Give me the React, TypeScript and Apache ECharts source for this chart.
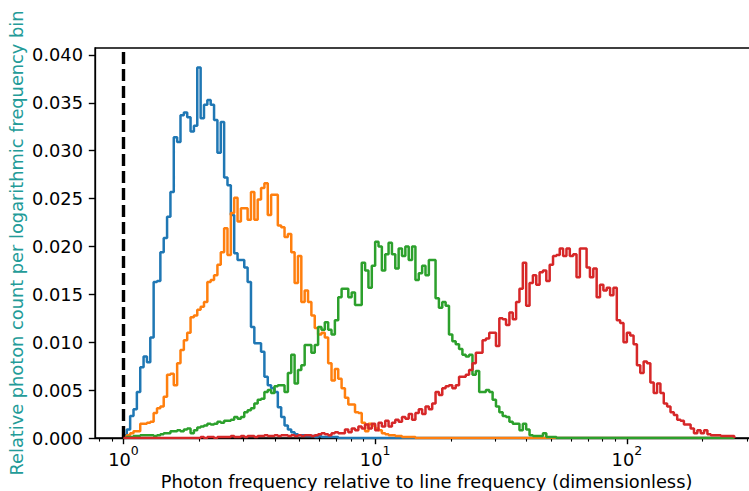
import React, { useEffect, useRef } from "react";
import * as echarts from "echarts";

// Histogram bins: logarithmic, edges at 10^(i / BINS_PER_DECADE), starting at 1
const BINS_PER_DECADE = 75;
const N_BINS = 182;

const blue = [
  0.0003, 0.0009, 0.0023, 0.003, 0.0048, 0.0074, 0.0085, 0.0079, 0.0105, 0.0163,
  0.0164, 0.0194, 0.0209, 0.0231, 0.0257, 0.0314, 0.0309, 0.0337, 0.034, 0.0335,
  0.032, 0.0326, 0.0387, 0.0334, 0.0348, 0.0353, 0.0348, 0.0332, 0.0298, 0.033,
  0.0272, 0.0264, 0.0233, 0.0193, 0.0186, 0.0186, 0.0178, 0.0163, 0.0116, 0.0099,
  0.0099, 0.009, 0.0064, 0.0055, 0.0052, 0.0048, 0.0032, 0.0022, 0.0013, 0.0009,
  0.0006, 0.0004, 0.0003, 0.0003, 0.0002, 0.0002, 0.0002, 0.0001, 0.0002, 0.0001,
  0.0001, 0.0001, 0.0001, 0.0001,
];

const orange = [
  0.0001, 0.0003, 0.0005, 0.0007, 0.0007, 0.0015, 0.0015, 0.0016, 0.0017, 0.0026,
  0.0031, 0.0033, 0.0043, 0.0066, 0.0067, 0.0055, 0.0078, 0.0092, 0.0102, 0.011,
  0.0126, 0.0128, 0.0134, 0.0137, 0.0142, 0.0163, 0.0165, 0.017, 0.0181, 0.0194,
  0.0219, 0.0191, 0.0235, 0.0251, 0.0226, 0.024, 0.024, 0.0228, 0.0257, 0.0228,
  0.0249, 0.0261, 0.0266, 0.0233, 0.0254, 0.0254, 0.0222, 0.022, 0.021, 0.0213,
  0.0194, 0.0162, 0.019, 0.0142, 0.0154, 0.0142, 0.0128, 0.0115, 0.0108, 0.011,
  0.0105, 0.0078, 0.006, 0.0072, 0.0062, 0.0052, 0.0042, 0.0035, 0.0035, 0.0027,
  0.0026, 0.0016, 0.0007, 0.0015, 0.0013, 0.001, 0.0008, 0.0005, 0.0004, 0.0003,
  0.0003, 0.0002, 0.0002, 0.0001, 0.0001, 0.0001, 0.0001,
];

const green = [
  0, 0.0001, 0.0001, 0.0002, 0.0002, 0.0003, 0.0003, 0.0003, 0.0003, 0.0002,
  0.0003, 0.0004, 0.0005, 0.0005, 0.0007, 0.0007, 0.0008, 0.0007, 0.0009, 0.001,
  0.0005, 0.0008, 0.0011, 0.0012, 0.0013, 0.0015, 0.0014, 0.0015, 0.0017, 0.0016,
  0.0018, 0.0018, 0.0019, 0.0022, 0.002, 0.0022, 0.0027, 0.0029, 0.0031, 0.0036,
  0.004, 0.0041, 0.0048, 0.005, 0.0047, 0.0054, 0.0055, 0.0055, 0.0048, 0.0068,
  0.0087, 0.0057, 0.0071, 0.0076, 0.0097, 0.0097, 0.0089, 0.0097, 0.0116, 0.0113,
  0.0121, 0.0113, 0.0108, 0.0123, 0.0147, 0.0156, 0.0156, 0.0147, 0.0152, 0.0139,
  0.0139, 0.0183, 0.0175, 0.0157, 0.018, 0.0205, 0.02, 0.0175, 0.0192, 0.0204,
  0.0192, 0.0177, 0.0198, 0.019, 0.02, 0.0186, 0.02, 0.0165, 0.0172, 0.018,
  0.017, 0.0186, 0.0186, 0.0146, 0.0136, 0.0142, 0.0138, 0.0108, 0.0101, 0.0098,
  0.0093, 0.0087, 0.0085, 0.0087, 0.0066, 0.007, 0.0048, 0.0048, 0.005, 0.0048,
  0.004, 0.0033, 0.0027, 0.0023, 0.0022, 0.0017, 0.0015, 0.0015, 0.0008, 0.0015,
  0.0009, 0.0003, 0.0002, 0.0002, 0.0002, 0.0005, 0.0001, 0.0001, 0.0001,
];

const red = [
  0, 0, 0, 0, 0, 0, 0, 0, 0, 0,
  0, 0, 0, 0, 0, 0, 0, 0, 0, 0,
  0, 0, 0, 0.0001, 0, 0.0001, 0.0001, 0, 0.0001, 0.0001,
  0.0001, 0.0001, 0.0002, 0.0001, 0.0001, 0.0002, 0.0001, 0.0002, 0.0002, 0.0001,
  0.0002, 0.0002, 0.0003, 0.0002, 0.0002, 0.0003, 0.0002, 0.0003, 0.0003, 0.0002,
  0.0003, 0.0002, 0.0003, 0.0002, 0.0003, 0.0003, 0.0002, 0.0003, 0.0004, 0.0005,
  0.0004, 0.0003, 0.0005, 0.0006, 0.0005, 0.0005, 0.0009, 0.0006, 0.001, 0.0008,
  0.0012, 0.001, 0.0014, 0.001, 0.0015, 0.0008, 0.0016, 0.0012, 0.0018, 0.0012,
  0.0016, 0.0019, 0.0017, 0.0022, 0.002, 0.0025, 0.0019, 0.0026, 0.003, 0.0025,
  0.0033, 0.003, 0.0036, 0.0048, 0.0045, 0.0052, 0.0054, 0.0055, 0.0052, 0.0055,
  0.0064, 0.0064, 0.0066, 0.0071, 0.0078, 0.0089, 0.0089, 0.0102, 0.0104, 0.011,
  0.011, 0.0096, 0.0125, 0.0124, 0.0118, 0.0131, 0.0124, 0.0142, 0.0156, 0.0183,
  0.0138, 0.0162, 0.017, 0.016, 0.0173, 0.0175, 0.0164, 0.0181, 0.019, 0.0191,
  0.0198, 0.019, 0.0198, 0.019, 0.0192, 0.0168, 0.0198, 0.0198, 0.0178, 0.0168,
  0.0177, 0.0147, 0.016, 0.0154, 0.0157, 0.0149, 0.0157, 0.0123, 0.012, 0.01,
  0.011, 0.0107, 0.0098, 0.0076, 0.0068, 0.008, 0.0078, 0.0058, 0.0047, 0.0057,
  0.0047, 0.0036, 0.0033, 0.0027, 0.0024, 0.0019, 0.0018, 0.0014, 0.0014, 0.001,
  0.0005, 0.0008, 0.0005, 0.0008, 0.0004, 0.0003, 0.0003, 0.0003, 0.0002, 0.0002,
  0.0002, 0.0002,
];

const seriesList = [
  { name: "blue", values: blue, color: "#1f77b4" },
  { name: "orange", values: orange, color: "#ff7f0e" },
  { name: "green", values: green, color: "#2ca02c" },
  { name: "red", values: red, color: "#d62728" },
];

// axis in log10 space
const X_MIN = -0.113;
const X_MAX = 2.521;
const Y_MIN = 0;
const Y_MAX = 0.04073;
const Y_INTERVAL = 0.005;
const xMajorExponents = [0, 1, 2];
const xMinorValues = [
  0.8, 0.9, 2, 3, 4, 5, 6, 7, 8, 9, 20, 30, 40, 50, 60, 70, 80, 90, 200, 300,
];
const referenceLineX = 1; // line frequency

const FONT = "DejaVu Sans";
const FS = 17.8;

function outline(values: number[]): number[][] {
  const full = values.concat(new Array(Math.max(0, N_BINS - values.length)).fill(0));
  const pts: number[][] = [[0, 0]];
  for (let i = 0; i < N_BINS; i++) {
    const x0 = i / BINS_PER_DECADE;
    const x1 = (i + 1) / BINS_PER_DECADE;
    pts.push([x0, full[i]], [x1, full[i]]);
  }
  pts.push([N_BINS / BINS_PER_DECADE, 0]);
  return pts;
}

export default function App() {
  const ref = useRef<HTMLDivElement>(null);
  useEffect(() => {
    document.body.style.margin = "0";
    document.documentElement.style.overflow = "hidden";
    if (!ref.current) return;
    const chart = echarts.init(ref.current, null, { renderer: "svg", width: 749, height: 491 });
    const series: any[] = seriesList.map((s, idx) => ({
      name: s.name,
      type: "line",
      data: outline(s.values),
      showSymbol: false,
      symbol: "none",
      lineStyle: { color: s.color, width: 2.5 },
      itemStyle: { color: s.color },
      z: 2 + idx,
      clip: true,
    }));
    series.push({
      name: "ref",
      type: "line",
      data: [],
      z: 10,
      markLine: {
        silent: true,
        symbol: ["none", "none"],
        label: { show: false },
        lineStyle: { color: "#000", type: [12, 5], width: 3.4 },
        data: [{ xAxis: Math.log10(referenceLineX) }],
        animation: false,
      },
    });
    chart.setOption({
      animation: false,
      backgroundColor: "#fff",
      grid: {
        left: 95,
        top: 48,
        right: -9,
        bottom: 53,
        containLabel: false,
        outerBoundsMode: "none",
        show: true,
        borderColor: "#000",
        borderWidth: 1.3,
        backgroundColor: "transparent",
      },
      xAxis: [
        {
          type: "value",
          min: X_MIN,
          max: X_MAX,
          position: "bottom",
          splitLine: { show: false },
          axisLine: { show: true, onZero: false, lineStyle: { color: "#000", width: 1.3 } },
          axisTick: {
            show: true,
            customValues: xMajorExponents,
            length: 6.2,
            lineStyle: { color: "#000", width: 1.4 },
          },
          axisLabel: {
            show: true,
            customValues: xMajorExponents,
            margin: 6,
            formatter: (v: number) => `{b|10}{s|${Math.round(v)}}`,
            rich: {
              b: { fontFamily: FONT, fontSize: FS, color: "#000", lineHeight: 24, verticalAlign: "bottom" },
              s: { fontFamily: FONT, fontSize: 12.5, color: "#000", lineHeight: 24, verticalAlign: "top" },
            },
          },
          name: "Photon frequency relative to line frequency (dimensionless)",
          nameLocation: "middle",
          nameGap: 22,
          nameTextStyle: { fontFamily: FONT, fontSize: FS, color: "#000" },
        },
        {
          type: "value",
          min: X_MIN,
          max: X_MAX,
          position: "bottom",
          splitLine: { show: false },
          axisLine: { show: false },
          axisLabel: { show: false },
          axisTick: {
            show: true,
            customValues: xMinorValues.map((v) => Math.log10(v)),
            length: 3.6,
            lineStyle: { color: "#000", width: 1.1 },
          },
        },
      ],
      yAxis: {
        type: "value",
        min: Y_MIN,
        max: Y_MAX,
        interval: Y_INTERVAL,
        splitLine: { show: false },
        axisLine: { show: true, onZero: false, lineStyle: { color: "#000", width: 1.3 } },
        axisTick: { show: true, length: 6.2, lineStyle: { color: "#000", width: 1.4 } },
        axisLabel: {
          margin: 12,
          fontFamily: FONT,
          fontSize: FS,
          color: "#000",
          formatter: (v: number) => v.toFixed(3),
        },
        name: "Relative photon count per logarithmic frequency bin",
        nameLocation: "middle",
        nameGap: 70,
        nameMoveOverlap: false,
        nameTextStyle: { fontFamily: FONT, fontSize: FS, color: "#239b98" },
      },
      series,
    });
    return () => chart.dispose();
  }, []);
  return (
    <div
      ref={ref}
      style={{ position: "fixed", left: 0, top: 0, width: 749, height: 491, overflow: "hidden" }}
    />
  );
}
